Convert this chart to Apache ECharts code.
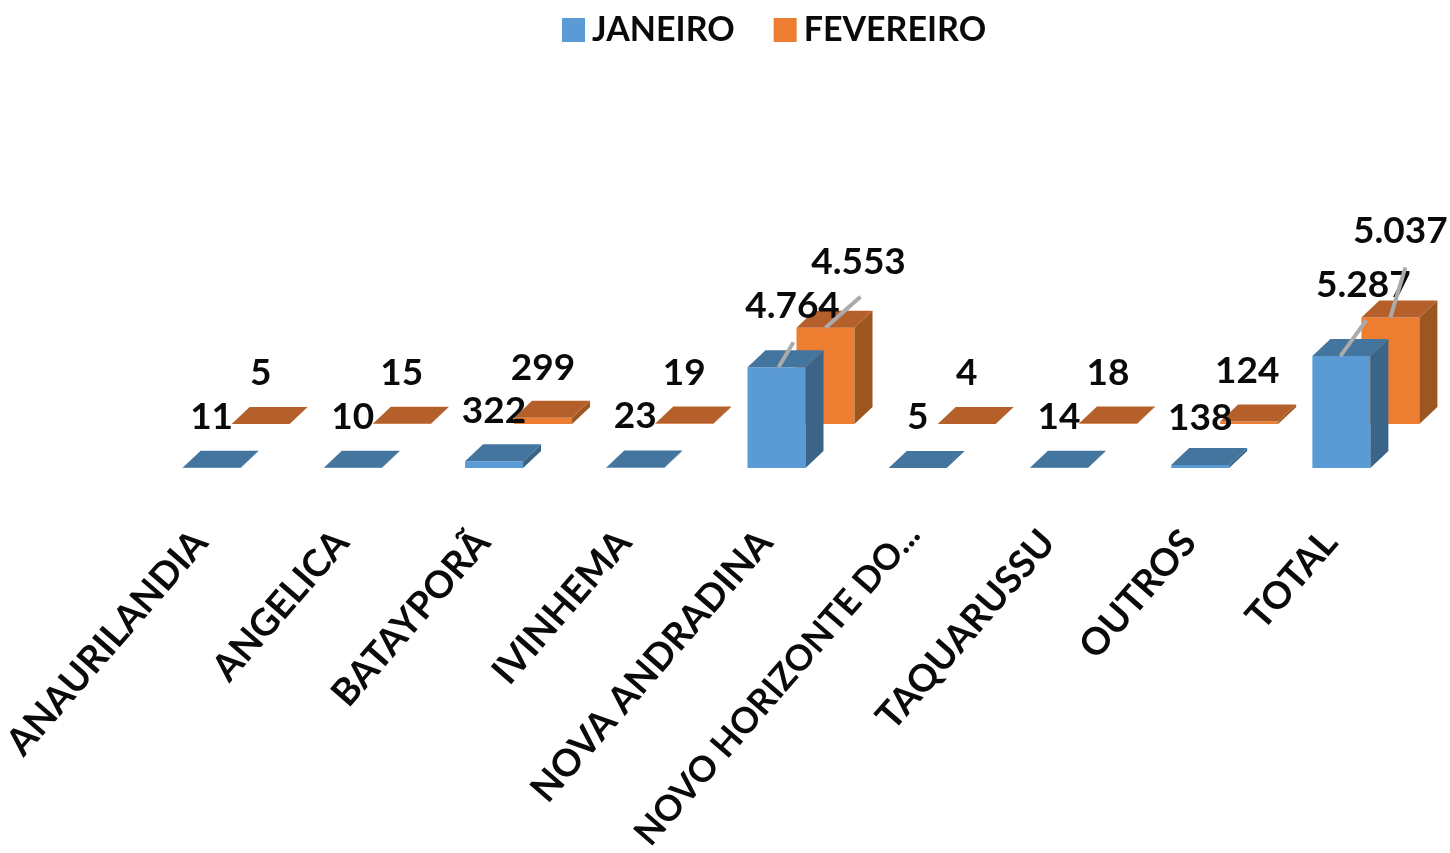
<!DOCTYPE html>
<html><head><meta charset="utf-8">
<style>html,body{margin:0;padding:0;background:#fff}#c{width:1450px;height:853px}</style>
<script src="https://cdn.jsdelivr.net/npm/echarts@6/dist/echarts.min.js"></script>
</head><body><div id="c"></div>
<script>
const categories = ['ANAURILANDIA','ANGELICA','BATAYPORÃ','IVINHEMA','NOVA ANDRADINA','NOVO HORIZONTE DO...','TAQUARUSSU','OUTROS','TOTAL'];
const janeiro = [11,10,322,23,4764,5,14,138,5287];
const fevereiro = [5,15,299,19,4553,4,18,124,5037];
// label offsets from the bar's top-front centre [dx, dy]
const janLabelOffset = [[0,-51],[0,-51],[0,-50],[0,-51],[16,-61],[0,-51],[0,-51],[0,-47],[22,-71]];
const fevLabelOffset = [[0,-51],[0,-51],[0,-50],[0,-51],[33,-66],[0,-51],[0,-51],[-2,-50],[10,-86]];
// leader lines [startDx, endDx, endDy] for the tall bars
const janLeader = {4:[2,17,-25], 8:[-1,25,-36]};
const fevLeader = {4:[0,35,-31], 8:[0,15,-50]};
const FONT = 'Lato,"Open Sans",sans-serif';
const BAR_W = 58, DX = 18, DY = 17, OFF_X = 49, OFF_Y = -44;
const fmt = v => String(v).replace(/\B(?=(\d{3})+$)/g,'.');

function barRender(shift, front, top, side){
  return function(params, api){
    const c = api.coord([api.value(0), api.value(1)]);
    const b = api.coord([api.value(0), 0]);
    const x0 = c[0]-BAR_W/2+shift[0], x1 = x0+BAR_W;
    const yt = c[1]+shift[1], yb = b[1]+shift[1];
    return {type:'group', children:[
      {type:'rect', shape:{x:x0,y:yt,width:BAR_W,height:yb-yt}, style:{fill:front}},
      {type:'polygon', shape:{points:[[x1,yb],[x1+DX,yb-DY],[x1+DX,yt-DY],[x1,yt]]}, style:{fill:side}},
      {type:'polygon', shape:{points:[[x0,yt],[x0+DX,yt-DY],[x1+DX,yt-DY],[x1,yt]]}, style:{fill:top}}
    ]};
  };
}
function labelRender(shift, offsets){
  return function(params, api){
    const i = params.dataIndex;
    const c = api.coord([api.value(0), api.value(1)]);
    return {type:'text', x:c[0]+shift[0]+offsets[i][0], y:c[1]+shift[1]+offsets[i][1], style:{text:fmt(api.value(1)),fill:'#0a0a0a',
      font:'bold 37px '+FONT, align:'center', verticalAlign:'middle'}};
  };
}
function leaderRender(shift, leaders){
  return function(params, api){
    const l = leaders[params.dataIndex];
    if(!l) return null;
    const c = api.coord([api.value(0), api.value(1)]);
    const x = c[0]+shift[0], y = c[1]+shift[1];
    return {type:'line', shape:{x1:x+l[0],y1:y,x2:x+l[1],y2:y+l[2]}, style:{stroke:'#ABABAB',lineWidth:4}};
  };
}
const jd = janeiro.map((v,i)=>[i,v]), fd = fevereiro.map((v,i)=>[i,v]);
const chart = echarts.init(document.getElementById('c'));
chart.setOption({
  animation:false,
  backgroundColor:'#fff',
  legend:{data:['JANEIRO','FEVEREIRO'], top:8, left:557, itemWidth:23, itemHeight:24, itemGap:39, icon:'rect',
    textStyle:{fontFamily:FONT,fontWeight:'bold',fontSize:34,color:'#0a0a0a',padding:[0,0,0,2]}},
  grid:{left:141,width:1271,top:341,bottom:385,outerBoundsMode:'none'},
  xAxis:{type:'category',
    data:categories.map(c=>c.endsWith('...')?{value:c,textStyle:{fontSize:35.5,padding:[0,7,0,0]}}:c),
    axisLine:{show:false},axisTick:{show:false},
    axisLabel:{rotate:49,interval:0,margin:55,padding:[0,17,0,0],fontFamily:FONT,fontWeight:'bold',fontSize:37.5,color:'#0a0a0a'}},
  yAxis:{type:'value',min:0,max:6000,show:false},
  series:[
    {name:'JANEIRO',type:'custom',z:3,itemStyle:{color:'#5B9BD5'},data:jd,encode:{x:0,y:1},
      renderItem:barRender([0,0],'#5B9BD5','#44759F','#3A6588')},
    {name:'FEVEREIRO',type:'custom',z:2,itemStyle:{color:'#ED7D31'},data:fd,encode:{x:0,y:1},
      renderItem:barRender([OFF_X,OFF_Y],'#ED7D31','#B5602A','#9C5620')},
    {name:'fevLabels',type:'custom',z:5,data:fd,encode:{x:0,y:1},renderItem:labelRender([OFF_X,OFF_Y],fevLabelOffset)},
    {name:'janLabels',type:'custom',z:6,data:jd,encode:{x:0,y:1},renderItem:labelRender([0,0],janLabelOffset)},
    {name:'fevLeaders',type:'custom',z:7,data:fd,encode:{x:0,y:1},renderItem:leaderRender([OFF_X,OFF_Y],fevLeader)},
    {name:'janLeaders',type:'custom',z:7,data:jd,encode:{x:0,y:1},renderItem:leaderRender([0,0],janLeader)}
  ]
});
</script></body></html>
